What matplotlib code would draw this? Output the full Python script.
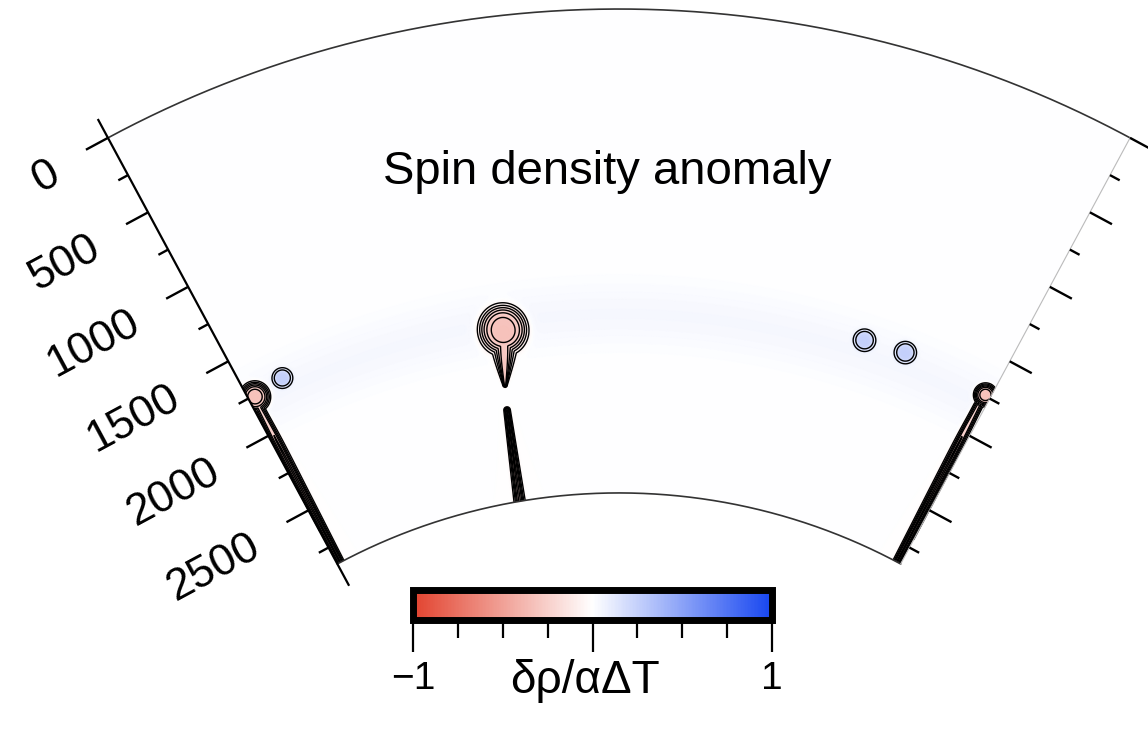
import numpy as np
import matplotlib
matplotlib.use('Agg')
import matplotlib.pyplot as plt
from matplotlib.colors import LinearSegmentedColormap, Normalize
from matplotlib.cm import ScalarMappable

plt.rcParams['font.family'] = ['Liberation Sans', 'DejaVu Sans']

W, H = 1148, 738
CX, CY = 619, 1087      # earth centre in pixels
PX = 0.1692             # pixels per km
R_TOP = 6371.0
BOTTOM = 2860.0
HALF = 28.3             # half opening angle of the section, deg

depth_major = [0, 500, 1000, 1500, 2000, 2500]
depth_minor = [250, 750, 1250, 1750, 2250, 2750]
depth_labels = ['0', '500', '1000', '1500', '2000', '2500']

# anomalies: angle from vertical (deg), depth (km)
blob_angle = [-8.7, -27.8, 27.9, -25.4, 18.2, 21.3]
blob_depth = [1840, 1760, 1744, 1731, 1723, 1710]
blob_radius = [140, 85, 65, 55, 60, 60]
blob_amp = [-0.36, -0.36, -0.36, 0.22, 0.22, 0.22]

conduit_angle0 = [-8.8, -9.39, -27.9, 27.8]
conduit_depth0 = [1930, 2316, 1820, 1820]
conduit_angle1 = [-9.22, -9.63, -28.0, 27.9]
conduit_depth1 = [2168, 2860, 2860, 2860]
conduit_width0 = [70, 15, 28, 26]
conduit_width1 = [10, 26, 20, 20]
conduit_amp = [-0.3, -0.26, -0.26, -0.26]

band_depth = 1800
band_width = 180
band_amp = 0.04

contour_levels = [-0.3, -0.25, -0.2, -0.15, -0.1, -0.05, 0.08, 0.16]
cbar_ticks = [-1, 0, 1]
cbar_ticklabels = ['\u22121', '', '1']
cbar_minor = [-0.75, -0.5, -0.25, 0.25, 0.5, 0.75]


def xy(angle, depth):
    a = np.radians(np.asarray(angle, dtype=float))
    r = R_TOP - np.asarray(depth, dtype=float)
    return r * np.sin(a), r * np.cos(a)


cmap = LinearSegmentedColormap.from_list('rwb', ['#e2432f', '#ffffff', '#1746f0'])
norm = Normalize(-1, 1)

fig = plt.figure(figsize=(W / 100, H / 100), dpi=100)
ax = fig.add_axes([0, 0, 1, 1])
ax.set_xlim(-CX / PX, (W - CX) / PX)
ax.set_ylim((CY - H) / PX, CY / PX)
ax.axis('off')

r = np.linspace(R_TOP - BOTTOM, R_TOP, 560)
a = np.linspace(-HALF, HALF, 1000)
A, R = np.meshgrid(a, r)
X = R * np.sin(np.radians(A))
Y = R * np.cos(np.radians(A))

neg = np.zeros_like(X)
pos = np.zeros_like(X)
for i in range(len(blob_angle)):
    bx, by = xy(blob_angle[i], blob_depth[i])
    d = np.hypot(X - bx, Y - by)
    c = blob_amp[i] * np.exp(-(d / blob_radius[i]) ** 4)
    if blob_amp[i] < 0:
        neg = np.minimum(neg, c)
    else:
        pos = np.maximum(pos, c)
for i in range(len(conduit_angle0)):
    x0, y0 = xy(conduit_angle0[i], conduit_depth0[i])
    x1, y1 = xy(conduit_angle1[i], conduit_depth1[i])
    dx, dy = x1 - x0, y1 - y0
    t = np.clip(((X - x0) * dx + (Y - y0) * dy) / (dx * dx + dy * dy), 0, 1)
    d = np.hypot(X - (x0 + t * dx), Y - (y0 + t * dy))
    w = conduit_width0[i] + t * (conduit_width1[i] - conduit_width0[i])
    neg = np.minimum(neg, conduit_amp[i] * np.exp(-(d / w) ** 2))
field = neg + pos + band_amp * np.exp(-((R_TOP - R - band_depth) / band_width) ** 2)

ax.pcolormesh(X, Y, field, cmap=cmap, norm=norm, shading='gouraud', rasterized=True)
ax.contour(X, Y, field, levels=contour_levels, colors='k', linewidths=1.0,
           linestyles='solid')

aa = np.linspace(-HALF, HALF, 400)
ax.plot(*xy(aa, 0 * aa), color='#333333', lw=1.2)
ax.plot(*xy(aa, 0 * aa + BOTTOM), color='#333333', lw=1.2)
ax.plot(*xy([-HALF, -HALF], [-120, 3000]), color='k', lw=1.6)
ax.plot(*xy([HALF, HALF], [0, BOTTOM]), color='#bbbbbb', lw=0.8)

h = np.radians(HALF)
for side in (-1, 1):
    tx, ty = side * np.cos(h), -np.sin(h)
    for ticks, ln in ((depth_major, 25), (depth_minor, 11)):
        for d in ticks:
            bx, by = xy(side * HALF, d)
            L = ln / PX
            ax.plot([bx, bx + tx * L], [by, by + ty * L], color='k', lw=1.7,
                    solid_capstyle='butt')
    if side < 0:
        for d, lab in zip(depth_major, depth_labels):
            bx, by = xy(-HALF, d)
            L = 58 / PX
            ax.text(bx + tx * L, by + ty * L - 6 / PX, lab, ha='right', va='center',
                    rotation=HALF, rotation_mode='anchor', fontsize=32)

fig.text(607 / W, 1 - 184 / H, 'Spin density anomaly', ha='center',
         va='baseline', fontsize=34)

cax = fig.add_axes([413 / W, (H - 620) / H, 359 / W, 30 / H])
cb = fig.colorbar(ScalarMappable(norm=norm, cmap=cmap), cax=cax,
                  orientation='horizontal')
cb.outline.set_linewidth(5)
cb.set_ticks(cbar_ticks, labels=cbar_ticklabels)
cb.set_ticks(cbar_minor, minor=True)
cax.tick_params(which='major', length=22.7, width=1.6, labelsize=28, pad=7)
cax.tick_params(which='minor', length=13, width=1.6)
fig.text(585 / W, 1 - 681 / H, '\u03b4\u03c1/\u03b1\u0394T', ha='center',
         va='center', fontsize=33)

fig.savefig('out.png', dpi=100)
